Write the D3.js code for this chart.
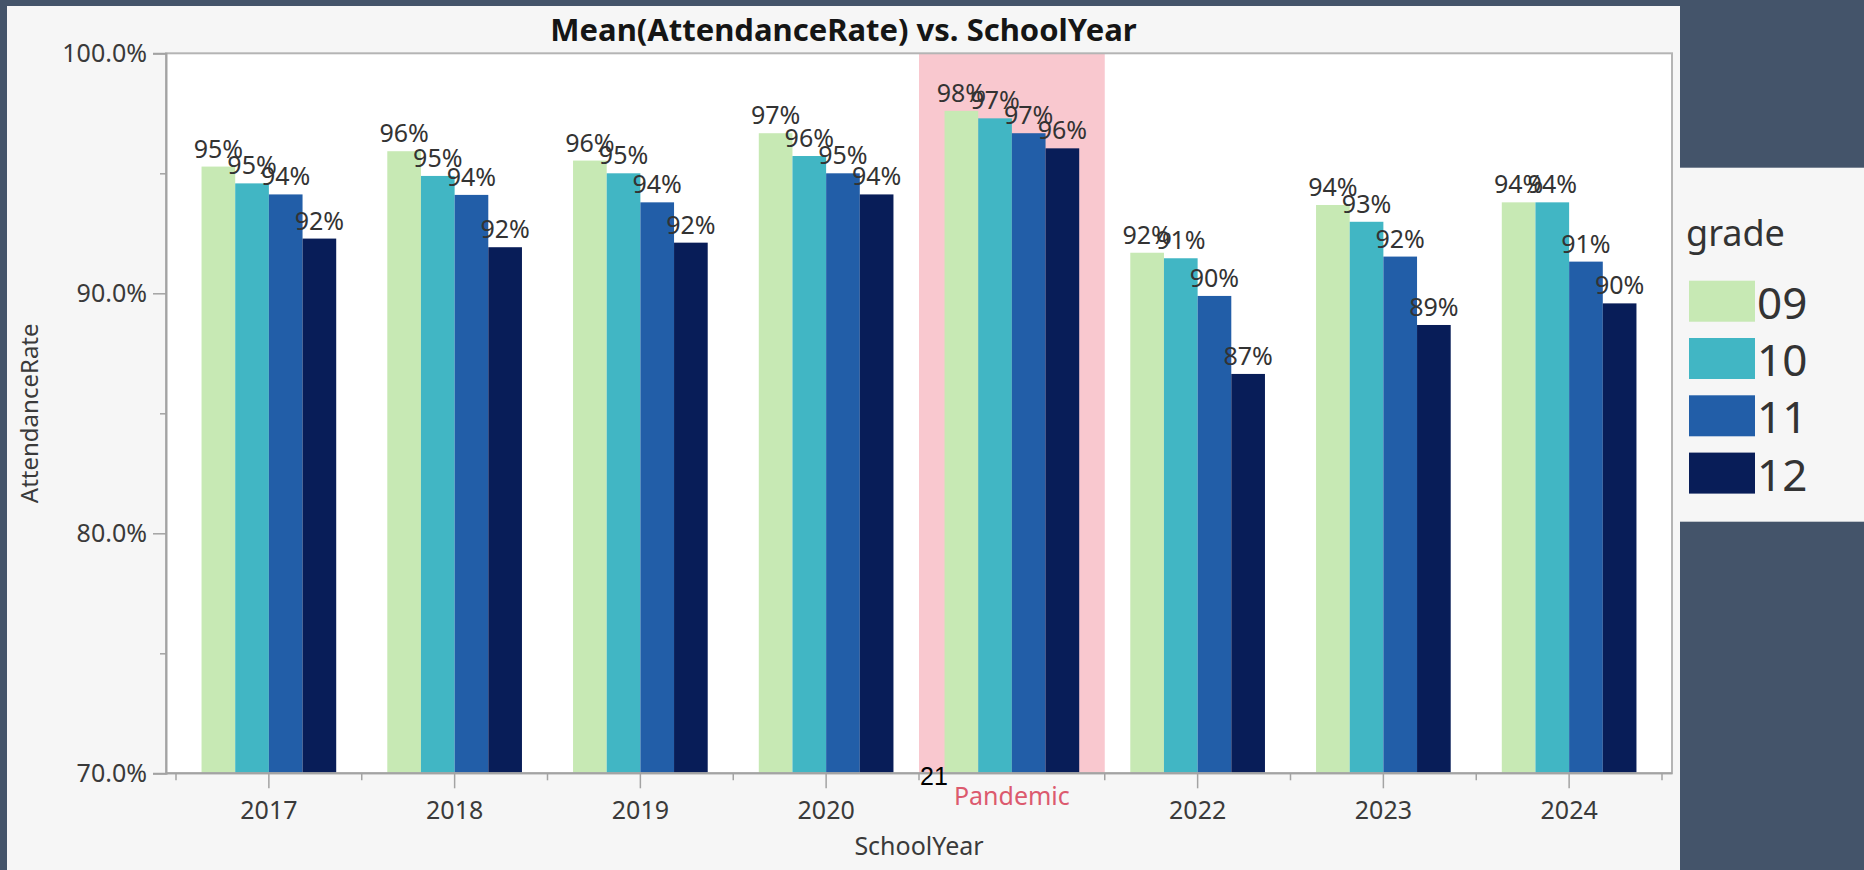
<!DOCTYPE html>
<html>
<head>
<meta charset="utf-8">
<script src="https://cdn.jsdelivr.net/npm/d3@7"></script>
<style>
  html, body { margin: 0; padding: 0; background: #44546a; }
  svg { display: block; font-family: "Noto Sans", "Open Sans", sans-serif; }
</style>
</head>
<body>
<svg id="chart" width="1864" height="870"></svg>
<script>
// ---- data ----------------------------------------------------------------
const schoolYears = ["2017", "2018", "2019", "2020", "Pandemic", "2022", "2023", "2024"];
const grades = ["09", "10", "11", "12"];

// mean attendance rate per school year, one array per grade
const grade09 = [0.9528, 0.9592, 0.9553, 0.9667, 0.9760, 0.9169, 0.9368, 0.9379];
const grade10 = [0.9458, 0.9489, 0.9500, 0.9572, 0.9729, 0.9146, 0.9298, 0.9379];
const grade11 = [0.9412, 0.9410, 0.9379, 0.9500, 0.9667, 0.8989, 0.9153, 0.9132];
const grade12 = [0.9228, 0.9192, 0.9211, 0.9412, 0.9604, 0.8664, 0.8868, 0.8958];

const gradeColors = ["#c7e9b4", "#41b6c4", "#225ea8", "#081d58"];

const yTicks = [0.70, 0.80, 0.90, 1.00];
const yMinorTicks = [0.75, 0.85, 0.95];
const yDomain = [0.70, 1.00];

const highlightYear = "Pandemic";
const strayNote = "21";

const chartTitle = "Mean(AttendanceRate) vs. SchoolYear";
const xTitle = "SchoolYear";
const yTitle = "AttendanceRate";
const legendTitle = "grade";

// ---- layout ----------------------------------------------------------------
const W = 1864, H = 870;
const panel = { x: 7, y: 6, w: 1673, h: 864 };
const plot = { left: 166, right: 1672, top: 53.3, bottom: 773.3 };
const textColor = "#333333";
const axisColor = "#a3a3a3";

const series = [grade09, grade10, grade11, grade12];
const rows = schoolYears.map((yr, i) => ({
  year: yr,
  values: grades.map((g, j) => ({ year: yr, grade: g, value: series[j][i] }))
}));

const svg = d3.select("#chart");

svg.append("rect").attr("width", W).attr("height", H).attr("fill", "#44546a");
svg.append("rect")
  .attr("x", panel.x).attr("y", panel.y)
  .attr("width", panel.w).attr("height", panel.h)
  .attr("fill", "#f6f6f6");

// scales
const x = d3.scaleBand()
  .domain(schoolYears)
  .range([176, 1662])
  .paddingInner(0.275)
  .paddingOuter(0.1375);

const xInner = d3.scaleBand()
  .domain(grades)
  .range([0, x.bandwidth()]);

const y = d3.scaleLinear().domain(yDomain).range([plot.bottom, plot.top]);

const color = d3.scaleOrdinal().domain(grades).range(gradeColors);

const slotStart = d => x(d) - x.step() * x.paddingInner() / 2;

// plot background
svg.append("rect")
  .attr("x", plot.left).attr("y", plot.top)
  .attr("width", plot.right - plot.left).attr("height", plot.bottom - plot.top)
  .attr("fill", "#ffffff");

// highlighted year slot
svg.append("rect")
  .attr("x", slotStart(highlightYear))
  .attr("y", plot.top)
  .attr("width", x.step())
  .attr("height", plot.bottom - plot.top)
  .attr("fill", "#f9c8cf");

// bars
const groups = svg.append("g").selectAll("g")
  .data(rows)
  .join("g")
  .attr("transform", d => `translate(${x(d.year)},0)`);

groups.selectAll("rect")
  .data(d => d.values)
  .join("rect")
  .attr("x", d => xInner(d.grade))
  .attr("y", d => y(d.value))
  .attr("width", xInner.bandwidth())
  .attr("height", d => y(yDomain[0]) - y(d.value))
  .attr("fill", d => color(d.grade));

// value labels
const pct = d3.format(".0%");
groups.selectAll("text")
  .data(d => d.values)
  .join("text")
  .attr("x", d => xInner(d.grade) + xInner.bandwidth() / 2)
  .attr("y", d => y(d.value) - 9)
  .attr("text-anchor", "middle")
  .attr("font-size", 25)
  .attr("fill", textColor)
  .text(d => pct(d.value));

// frame
svg.append("rect")
  .attr("x", plot.left).attr("y", plot.top)
  .attr("width", plot.right - plot.left).attr("height", plot.bottom - plot.top)
  .attr("fill", "none")
  .attr("stroke", "#b4b4b4")
  .attr("stroke-width", 2);

// y axis
const yAxis = svg.append("g")
  .attr("transform", `translate(${plot.left},0)`)
  .call(d3.axisLeft(y).tickValues(yTicks).tickFormat(d3.format(".1%")).tickSize(13).tickPadding(6));
yAxis.select(".domain").attr("stroke", axisColor).attr("stroke-width", 2);
yAxis.selectAll(".tick line").attr("stroke", axisColor).attr("stroke-width", 1.5);
yAxis.selectAll(".tick text")
  .attr("font-size", 25).attr("font-family", "Noto Sans, sans-serif").attr("fill", "#3a3a3a");

const yMinor = svg.append("g")
  .attr("transform", `translate(${plot.left},0)`)
  .call(d3.axisLeft(y).tickValues(yMinorTicks).tickFormat("").tickSize(6));
yMinor.select(".domain").remove();
yMinor.selectAll(".tick line").attr("stroke", axisColor).attr("stroke-width", 1.5);

// x axis
const xAxis = svg.append("g")
  .attr("transform", `translate(0,${plot.bottom})`)
  .call(d3.axisBottom(x).tickSize(15).tickPadding(13));
xAxis.select(".domain").attr("stroke", axisColor).attr("stroke-width", 2)
  .attr("d", `M${plot.left},0H${plot.right}`);
xAxis.selectAll(".tick line").attr("stroke", axisColor).attr("stroke-width", 1.5);
xAxis.selectAll(".tick text")
  .attr("font-size", 25).attr("font-family", "Noto Sans, sans-serif").attr("fill", "#3a3a3a");
xAxis.selectAll(".tick")
  .filter(d => d === highlightYear)
  .select("text")
  .attr("fill", "#dc5a6e")
  .attr("y", 14);
xAxis.selectAll(".tick")
  .filter(d => d === highlightYear)
  .select("line").remove();

// slot boundary ticks on x axis
const boundaries = schoolYears.map(slotStart).concat([slotStart(schoolYears[schoolYears.length - 1]) + x.step()]);
svg.append("g").selectAll("line")
  .data(boundaries)
  .join("line")
  .attr("x1", d => d).attr("x2", d => d)
  .attr("y1", plot.bottom).attr("y2", plot.bottom + 7)
  .attr("stroke", axisColor).attr("stroke-width", 1.5);

// titles
svg.append("text")
  .attr("x", (panel.x + panel.x + panel.w) / 2)
  .attr("y", 41)
  .attr("text-anchor", "middle")
  .attr("font-size", 31)
  .attr("font-weight", "bold")
  .attr("fill", "#151515")
  .text(chartTitle);

svg.append("text")
  .attr("x", (plot.left + plot.right) / 2)
  .attr("y", 855)
  .attr("text-anchor", "middle")
  .attr("font-size", 25)
  .attr("fill", "#3a3a3a")
  .text(xTitle);

svg.append("text")
  .attr("transform", `translate(38,${(plot.top + plot.bottom) / 2}) rotate(-90)`)
  .attr("text-anchor", "middle")
  .attr("font-size", 24)
  .attr("fill", "#3a3a3a")
  .text(yTitle);

// stray note near the axis
svg.append("text")
  .attr("x", 920)
  .attr("y", 785)
  .attr("font-family", "Liberation Sans, Arial, sans-serif")
  .attr("font-size", 25)
  .attr("fill", "#000000")
  .text(strayNote);

// legend
const legend = svg.append("g");
legend.append("rect")
  .attr("x", 1680).attr("y", 167.7)
  .attr("width", 184).attr("height", 354)
  .attr("fill", "#f6f6f6");
legend.append("text")
  .attr("x", 1686).attr("y", 246)
  .attr("font-size", 36)
  .attr("fill", "#333333")
  .text(legendTitle);

const legendRow = d3.scaleBand().domain(grades).range([280.7, 280.7 + 57.3 * grades.length]);
legend.selectAll("rect.swatch")
  .data(grades)
  .join("rect")
  .attr("class", "swatch")
  .attr("x", 1689).attr("y", d => legendRow(d))
  .attr("width", 66).attr("height", 41)
  .attr("fill", d => color(d));
legend.selectAll("text.entry")
  .data(grades)
  .join("text")
  .attr("class", "entry")
  .attr("x", 1757).attr("y", d => legendRow(d) + 38)
  .attr("font-size", 44)
  .attr("fill", "#333333")
  .text(d => d);
</script>
</body>
</html>
